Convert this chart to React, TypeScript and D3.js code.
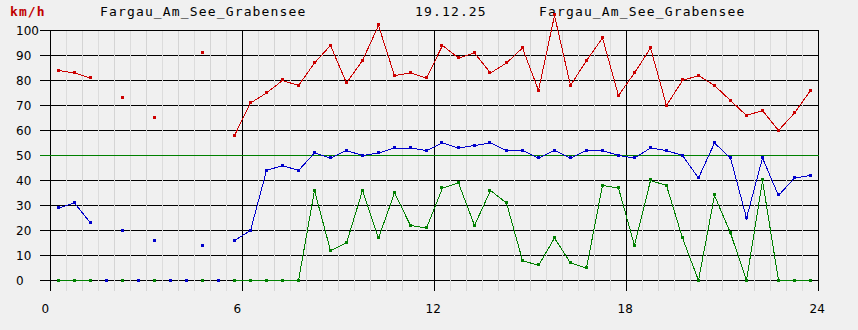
import React from "react";
import * as d3 from "d3";

const hourTicks = [0, 6, 12, 18, 24];
const valueTicks = [0, 10, 20, 30, 40, 50, 60, 70, 80, 90, 100];
const stationName = "Fargau_Am_See_Grabensee";
const dateLabel = "19.12.25";
const unitLabel = "km/h";
const referenceLine = 50;

// sample times (hours), one every half hour starting at 0:15
const sampleHours = d3.range(48).map((k) => 0.25 + 0.5 * k);

// gusts (red)
const gust: (number | null)[] = [
  84, 83, 81, null, 73, null, 65, null, null, 91, null, 58, 71, 75, 80, 78,
  87, 94, 79, 88, 102, 82, 83, 81, 94, 89, 91, 83, 87, 93, 76, 106,
  78, 88, 97, 74, 83, 93, 70, 80, 82, 78, 72, 66, 68, 60, 67, 76,
];

// mean wind (blue); 0 = calm marker, not connected
const mean: (number | null)[] = [
  29, 31, 23, 0, 20, 0, 16, 0, 0, 14, 0, 16, 20, 44, 46, 44,
  51, 49, 52, 50, 51, 53, 53, 52, 55, 53, 54, 55, 52, 52, 49, 52,
  49, 52, 52, 50, 49, 53, 52, 50, 41, 55, 49, 25, 49, 34, 41, 42,
];

// minimum (green)
const minimum: (number | null)[] = [
  0, 0, 0, null, 0, null, 0, null, null, 0, null, 0, 0, 0, 0, 0,
  36, 12, 15, 36, 17, 35, 22, 21, 37, 39, 22, 36, 31, 8, 6, 17,
  7, 5, 38, 37, 14, 40, 38, 17, 0, 34, 19, 0, 40, 0, 0, 0,
];

const W = 858;
const H = 330;
const x = d3.scaleLinear().domain([0, 24]).range([50.5, 818.5]);
const y = d3.scaleLinear().domain([0, 100]).range([280.5, 30.5]);

type Pt = { h: number; v: number | null };

function Series({
  values,
  color,
  connectZero,
}: {
  values: (number | null)[];
  color: string;
  connectZero: boolean;
}) {
  const pts: Pt[] = values.map((v, i) => ({ h: sampleHours[i], v }));
  const line = d3
    .line<Pt>()
    .defined((d) => d.v !== null && (connectZero || (d.v as number) > 0))
    .x((d) => x(d.h))
    .y((d) => y(d.v as number));
  return (
    <g>
      <path d={line(pts) || ""} fill="none" stroke={color} strokeWidth={1} />
      {pts
        .filter((d) => d.v !== null)
        .map((d, i) => (
          <rect
            key={i}
            x={Math.round(x(d.h)) - 2}
            y={Math.round(y(d.v as number)) - 2}
            width={3}
            height={3}
            fill={color}
          />
        ))}
    </g>
  );
}

export default function App() {
  const halfHours = d3.range(1, 48).map((k) => k * 0.5).filter((h) => h % 6 !== 0);
  const monoFont = "'DejaVu Sans Mono', monospace";
  return (
    <svg
      width={W}
      height={H}
      style={{ position: "absolute", left: 0, top: 0, background: "#f0f0f0" }}
      shapeRendering="crispEdges"
    >
      <rect x={0} y={0} width={W} height={H} fill="#f0f0f0" />
      {/* horizontal grid */}
      {valueTicks.map((t) => (
        <line key={"h" + t} x1={40} x2={x(24)} y1={y(t)} y2={y(t)} stroke="#000" strokeWidth={1} />
      ))}
      {/* minor vertical grid */}
      {halfHours.map((h) => (
        <line
          key={"m" + h}
          x1={x(h)}
          x2={x(h)}
          y1={y(100)}
          y2={290.5}
          stroke={h % 1 === 0 ? "#d4d4d4" : "#dcdcdc"}
          strokeWidth={1}
        />
      ))}
      {/* major vertical grid */}
      {hourTicks.map((t) => (
        <line key={"v" + t} x1={x(t)} x2={x(t)} y1={y(100)} y2={290.5} stroke="#000" strokeWidth={1} />
      ))}
      {/* reference line */}
      <line x1={40} x2={x(24)} y1={y(referenceLine)} y2={y(referenceLine)} stroke="#008000" strokeWidth={1} />
      {/* y labels */}
      {valueTicks.map((t) => (
        <text
          key={"yl" + t}
          x={16}
          y={y(t) + 4.5}
          fontFamily="'DejaVu Sans', sans-serif"
          fontSize={12}
          fill="#000"
        >
          {t}
        </text>
      ))}
      {/* x labels */}
      {hourTicks.map((t) => (
        <text
          key={"xl" + t}
          x={x(t) - 9}
          y={313}
          fontFamily="'DejaVu Sans', sans-serif"
          fontSize={12}
          fill="#000"
        >
          {t}
        </text>
      ))}
      {/* header */}
      <text x={10} y={16} fontFamily={monoFont} fontSize={13} fontWeight="bold" fill="#c00000" letterSpacing={1.1}>
        {unitLabel}
      </text>
      <text x={100} y={16} fontFamily={monoFont} fontSize={13} fill="#000" letterSpacing={1.15}>
        {stationName}
      </text>
      <text x={415} y={16} fontFamily={monoFont} fontSize={13} fill="#000" letterSpacing={1.15}>
        {dateLabel}
      </text>
      <text x={539} y={16} fontFamily={monoFont} fontSize={13} fill="#000" letterSpacing={1.15}>
        {stationName}
      </text>
      {/* data */}
      <Series values={minimum} color="#008000" connectZero={true} />
      <Series values={gust} color="#cc0000" connectZero={true} />
      <Series values={mean} color="#0000cc" connectZero={false} />
    </svg>
  );
}
